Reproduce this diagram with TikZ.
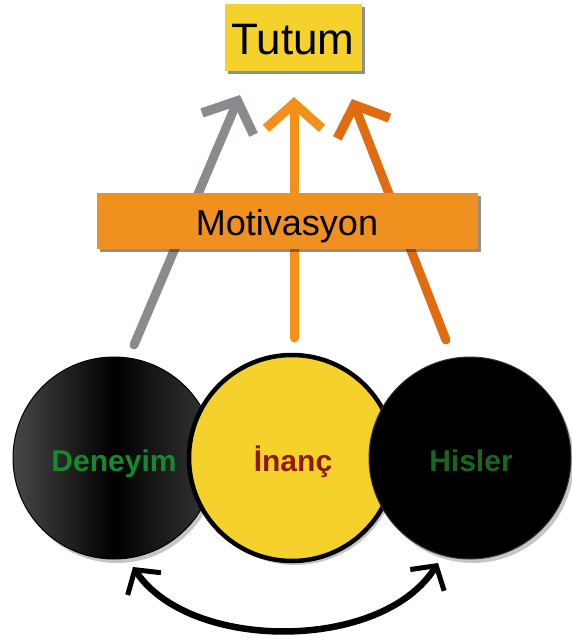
\documentclass[tikz,border=0pt]{standalone}
\usepackage{fontspec}
\setmainfont{Liberation Sans}
\usetikzlibrary{arrows.meta,shadows,calc}
\definecolor{tyellow}{HTML}{F5D22B}
\definecolor{morange}{HTML}{F0901E}
\definecolor{agray}{HTML}{898B8F}
\definecolor{aorange}{HTML}{F39019}
\definecolor{adark}{HTML}{E06C12}
\definecolor{tgreen}{HTML}{138B2B}
\definecolor{tred}{HTML}{901A00}
\definecolor{hgreen}{HTML}{17681D}
\begin{document}
\begin{tikzpicture}[x=1pt,y=-1pt,
  boxshadow/.style={drop shadow={shadow xshift=3pt,shadow yshift=-3pt,opacity=0.55,fill=black!80}},
  titlebox/.style={fill=tyellow,boxshadow,minimum width=137pt,minimum height=67pt,inner sep=0pt},
  motibox/.style={fill=morange,boxshadow,minimum width=381pt,minimum height=56pt,inner sep=0pt},
  bigcircle/.style={circle,inner sep=0pt,minimum size=#1,drop shadow={shadow xshift=3pt,shadow yshift=-4pt,opacity=0.45}},
  circtext/.style={anchor=base,inner sep=0pt,font=\bfseries\fontsize{30}{34}\selectfont},
  uparrow/.style={line width=9pt,line cap=round,-{Straight Barb[length=25pt,width=56pt,line width=9.5pt]}},
  cyclearrow/.style={line width=6.5pt,line cap=round,{Straight Barb[length=17pt,width=40pt,line width=5pt]}-{Straight Barb[length=17pt,width=40pt,line width=5pt]}}
]
\useasboundingbox (0,0) rectangle (571,639);

% arrows (behind the Motivasyon box)
\coordinate (g0) at (134,345);
\coordinate (g1) at (240,95);
\coordinate (o0) at (294,338);
\coordinate (o1) at (294,97);
\coordinate (d0) at (446,340);
\coordinate (d1) at (352,99);
\draw[uparrow,draw=agray] (g0) -- (g1);
\draw[uparrow,draw=aorange] (o0) -- (o1);
\draw[uparrow,draw=adark] (d0) -- (d1);

% boxes
\node[titlebox] (tutum) at (293,38) {};
\node[anchor=base,inner sep=0pt,font=\fontsize{44}{48}\selectfont] (tutumtext) at (293,55) {Tutum};
\node[motibox] (moti) at (287,221) {};
\node[anchor=base,inner sep=0pt,font=\fontsize{36}{40}\selectfont] (mototext) at (287,235) {Motivasyon};

% circles
\node[bigcircle=202pt,draw=black,line width=1pt,left color=black!72,right color=black!78,middle color=black] (den) at (114,458) {};
\node[circtext,text=tgreen] (dentext) at (114,471) {Deneyim};
\node[bigcircle=206pt,fill=tyellow,draw=black,line width=4.5pt] (inanc) at (292,458) {};
\node[circtext,text=tred] (inanctext) at (293,471) {İnanç};
\node[bigcircle=202pt,fill=black,draw=black!80,line width=1pt] (his) at (470,458) {};
\node[circtext,text=hgreen] (histext) at (471,471) {Hisler};

% cycle arrow
\coordinate (cl) at (133,567);
\coordinate (cr) at (438,563);
\draw[cyclearrow] (cl) .. controls (190,652) and (382,652) .. (cr);
\end{tikzpicture}
\end{document}
